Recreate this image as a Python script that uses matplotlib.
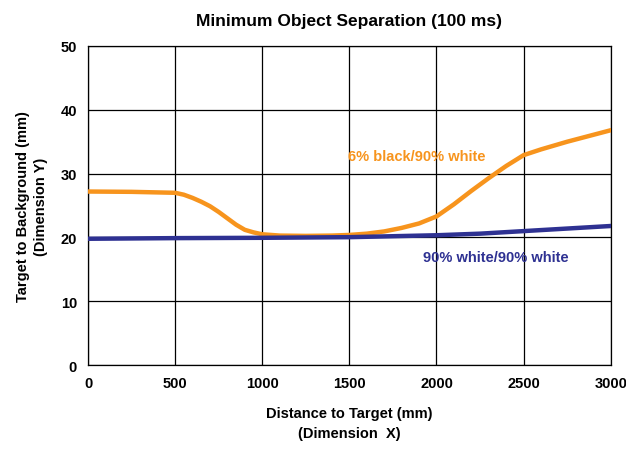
import matplotlib.pyplot as plt

# Data
dist_orange = [0, 250, 500, 550, 600, 650, 700, 750, 800, 850, 900, 950, 1000, 1100, 1250,
               1400, 1500, 1600, 1700, 1800, 1900, 2000, 2100, 2200, 2300, 2400, 2500,
               2600, 2750, 3000]
sep_orange = [27.2, 27.15, 27.0, 26.7, 26.2, 25.6, 24.9, 24.0, 23.0, 22.0, 21.2, 20.8, 20.5,
              20.3, 20.25, 20.3, 20.4, 20.6, 20.95, 21.5, 22.2, 23.3, 25.2, 27.3, 29.3,
              31.2, 32.9, 33.8, 35.0, 36.8]

dist_blue = [0, 500, 1000, 1500, 2000, 2250, 2500, 2750, 3000]
sep_blue = [19.8, 19.9, 19.95, 20.05, 20.35, 20.6, 21.0, 21.4, 21.8]

plt.rcParams["font.family"] = ["Liberation Sans", "DejaVu Sans"]
plt.rcParams["font.weight"] = "bold"

fig = plt.figure(figsize=(6.26, 4.56), dpi=100)
ax = fig.add_axes([0.1406, 0.197, 0.835, 0.70])

ax.plot(dist_orange, sep_orange, color="#F7941D", linewidth=3.2, zorder=3)
ax.plot(dist_blue, sep_blue, color="#2E3192", linewidth=3.2, zorder=3)

ax.set_xlim(0, 3000)
ax.set_ylim(0, 50)
ax.set_xticks(range(0, 3001, 500))
ax.set_yticks(range(0, 51, 10))
ax.grid(True, color="black", linewidth=0.9)
ax.tick_params(length=0, labelsize=10.5, pad=8)
for lab in ax.get_xticklabels() + ax.get_yticklabels():
    lab.set_fontweight("bold")
for s in ax.spines.values():
    s.set_linewidth(0.9)

ax.text(1490, 32.8, "6% black/90% white", color="#F7941D", fontsize=10.5, fontweight="bold", va="center")
ax.text(1925, 17.0, "90% white/90% white", color="#2E3192", fontsize=10.5, fontweight="bold", va="center")

ax.set_title("Minimum Object Separation (100 ms)", fontsize=12.5, fontweight="bold", pad=15)
ax.set_xlabel("Distance to Target (mm)\n(Dimension  X)", fontsize=10.5, fontweight="bold",
              labelpad=11, linespacing=1.6)
ax.set_ylabel("Target to Background (mm)\n(Dimension Y)", fontsize=10.5, fontweight="bold",
              labelpad=9, linespacing=1.4)

fig.savefig("out.png", dpi=100)
